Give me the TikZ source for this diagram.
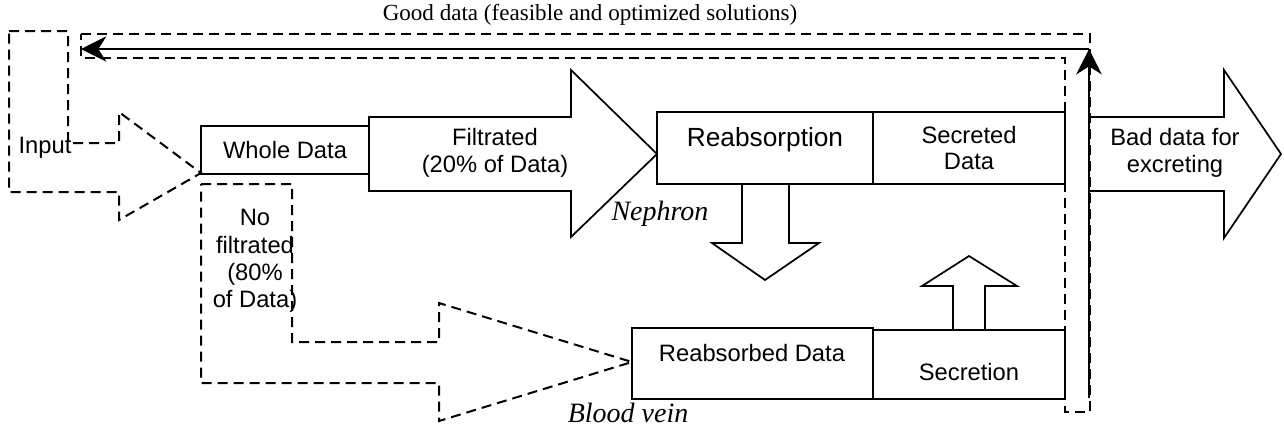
\documentclass[tikz,border=0pt]{standalone}
\usepackage{fontspec}
\setmainfont{Liberation Serif}
\setsansfont{Liberation Sans}
\usetikzlibrary{arrows.meta}

\tikzset{
  blockline/.style={line width=1.3pt, line join=miter},
  dashline/.style={line width=1.5pt, dash pattern=on 7.5pt off 4.5pt},
  databox/.style={draw, line width=1.3pt, inner sep=0pt, outer sep=0pt, align=center,
    font=\sffamily\fontsize{17.8}{20}\selectfont},
  arial/.style={inner sep=0pt, align=center, font=\sffamily\fontsize{17.8}{20}\selectfont},
  times/.style={inner sep=0pt, font=\rmfamily\fontsize{17.3}{20}\selectfont},
  timesit/.style={inner sep=0pt, font=\rmfamily\itshape\fontsize{21}{24}\selectfont},
  goodarrow/.style={line width=1.8pt, -{Stealth[length=19pt, width=19pt, inset=6pt]}}
}

\begin{document}
\begin{tikzpicture}[x=0.75pt,y=0.75pt,yscale=-1,xscale=1]
	\useasboundingbox (0,0) rectangle (1284,430);

	% good data loop (dashed outline)
	\draw [dashline] (81,34) -- (1090,34) -- (1090,412) -- (1065,412) -- (1065,58) -- (81,58) -- cycle ;

	% input arrow
	\draw [dashline] (9,31) -- (68,31) -- (68,143) -- (119,143) -- (119,112) -- (201,173) -- (119,220) -- (119,192) -- (9,192) -- cycle ;
	\node [arial] (input) at (45,148) {Input};

	% no filtrated arrow
	\draw [dashline] (201,184) -- (292,184) -- (292,342) -- (439,342) -- (439,303) -- (632,362) -- (439,421) -- (439,383) -- (201,383) -- cycle ;
	\node [arial, font=\sffamily\fontsize{17.8}{20.5}\selectfont] (nofilt) at (255,261) {No\\filtrated\\(80\%\\of Data)};

	% whole data
	\node [databox, minimum width=126pt, minimum height=36pt] (whole) at (285,150) {Whole Data};

	% filtrated arrow
	\draw [blockline] (369,117) -- (571,117) -- (571,70) -- (657,154) -- (571,237) -- (571,191) -- (369,191) -- cycle ;
	\node [arial] (filt) at (495,153) {Filtrated\\(20\% of Data)};
	\node [timesit] (nephron) at (660,214) {Nephron};

	% nephron boxes
	\node [databox, minimum width=162pt, minimum height=54pt] (reab) at (765,148) {};
	\node [arial, font=\sffamily\fontsize{19.7}{22}\selectfont] (reabtxt) at (765,140) {Reabsorption};
	\node [databox, minimum width=144pt, minimum height=54pt] (secd) at (969,148) {Secreted\\Data};

	% reabsorption down arrow
	\draw [blockline] (742,184) -- (742,243) -- (712,243) -- (765,280) -- (819,243) -- (789,243) -- (789,184) ;

	% blood vein boxes
	\node [databox, minimum width=180.75pt, minimum height=53.25pt] (reabd) at (752.5,363.5) {};
	\node [arial] (reabdtxt) at (752,353) {Reabsorbed Data};
	\node [databox, minimum width=144pt, minimum height=51.75pt] (secr) at (969,364.5) {};
	\node [arial] (secrtxt) at (969,372) {Secretion};
	\node [timesit] (blood) at (628,413) {Blood vein};

	% secretion up arrow
	\draw [blockline] (953,330) -- (953,286) -- (922,286) -- (969,256) -- (1017,286) -- (985,286) -- (985,330) ;

	% bad data arrow
	\draw [blockline] (1090,117) -- (1224,117) -- (1224,70) -- (1281,154) -- (1224,238) -- (1224,191) -- (1090,191) ;
	\node [arial] (bad) at (1175,153) {Bad data for\\excreting};

	% good data feedback
	\coordinate (gdstart) at (1089,398);
	\coordinate (gdcorner) at (1089,49);
	\coordinate (gdend) at (81,49);
	\draw [goodarrow] (gdstart) -- (gdcorner) ;
	\draw [goodarrow] (gdcorner) -- (gdend) ;
	\node [times] (good) at (590,15) {Good data (feasible and optimized solutions)};

\end{tikzpicture}
\end{document}
